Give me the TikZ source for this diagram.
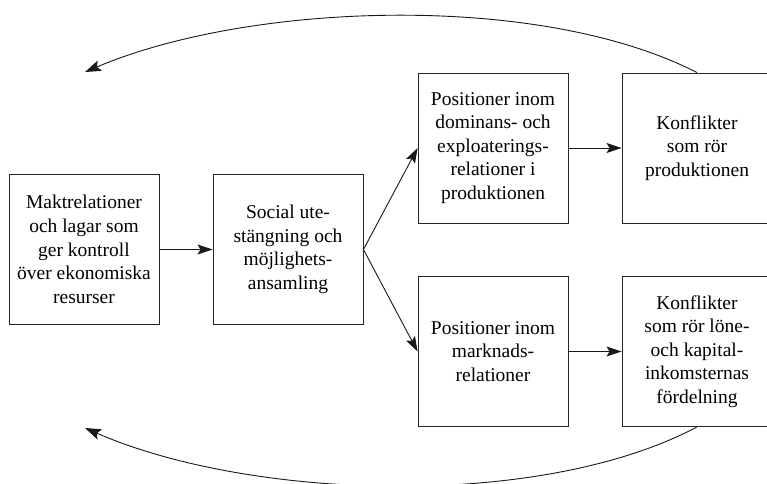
\documentclass[tikz,border=0pt]{standalone}
\usepackage{fontspec}
\setmainfont{Liberation Serif}
\usetikzlibrary{arrows.meta}
\begin{document}
\begin{tikzpicture}[x=1pt,y=-1pt,
  box/.style={draw=black!85, line width=0.9pt, minimum width=150pt, minimum height=150pt,
    inner sep=0pt, align=center, font=\fontsize{19.5}{23.6}\selectfont},
  conn/.style={line width=0.9pt, draw=black!90, -{Stealth[length=15pt,width=10pt,inset=3pt]}},
  loop/.style={line width=0.9pt, draw=black!90, -{Stealth[length=16pt,width=11pt,inset=3pt]}}]
\useasboundingbox (0,0) rectangle (767,483);
\clip (0,0) rectangle (767,483);
\node[box] (b1) at (84,249.5) {Maktrelationer\\och lagar som\\ger kontroll\\över ekonomiska\\resurser};
\node[box] (b2) at (288,249.5) {Social ute-\\stängning och\\möjlighets-\\ansamling};
\node[box] (b3) at (493,148) {Positioner inom\\dominans- och\\exploaterings-\\relationer i\\produktionen};
\node[box] (b4) at (697,148) {Konflikter\\som rör\\produktionen};
\node[box] (b5) at (493,351.5) {Positioner inom\\marknads-\\relationer};
\node[box] (b6) at (697,351.5) {Konflikter\\som rör löne-\\och kapital-\\inkomsternas\\fördelning};
\coordinate (topend) at (85,72);
\coordinate (botend) at (85,428);
\draw[conn] (b1.east) -- (b2.west);
\draw[conn] (b2.east) -- (b3.west);
\draw[conn] (b2.east) -- (b5.west);
\draw[conn] (b3.east) -- (b4.west);
\draw[conn] (b5.east) -- (b6.west);
\draw[loop] (b4.north) .. controls (540,-8) and (250,2) .. (topend);
\draw[loop] (b6.south) .. controls (540,510) and (250,500) .. (botend);
\end{tikzpicture}
\end{document}
